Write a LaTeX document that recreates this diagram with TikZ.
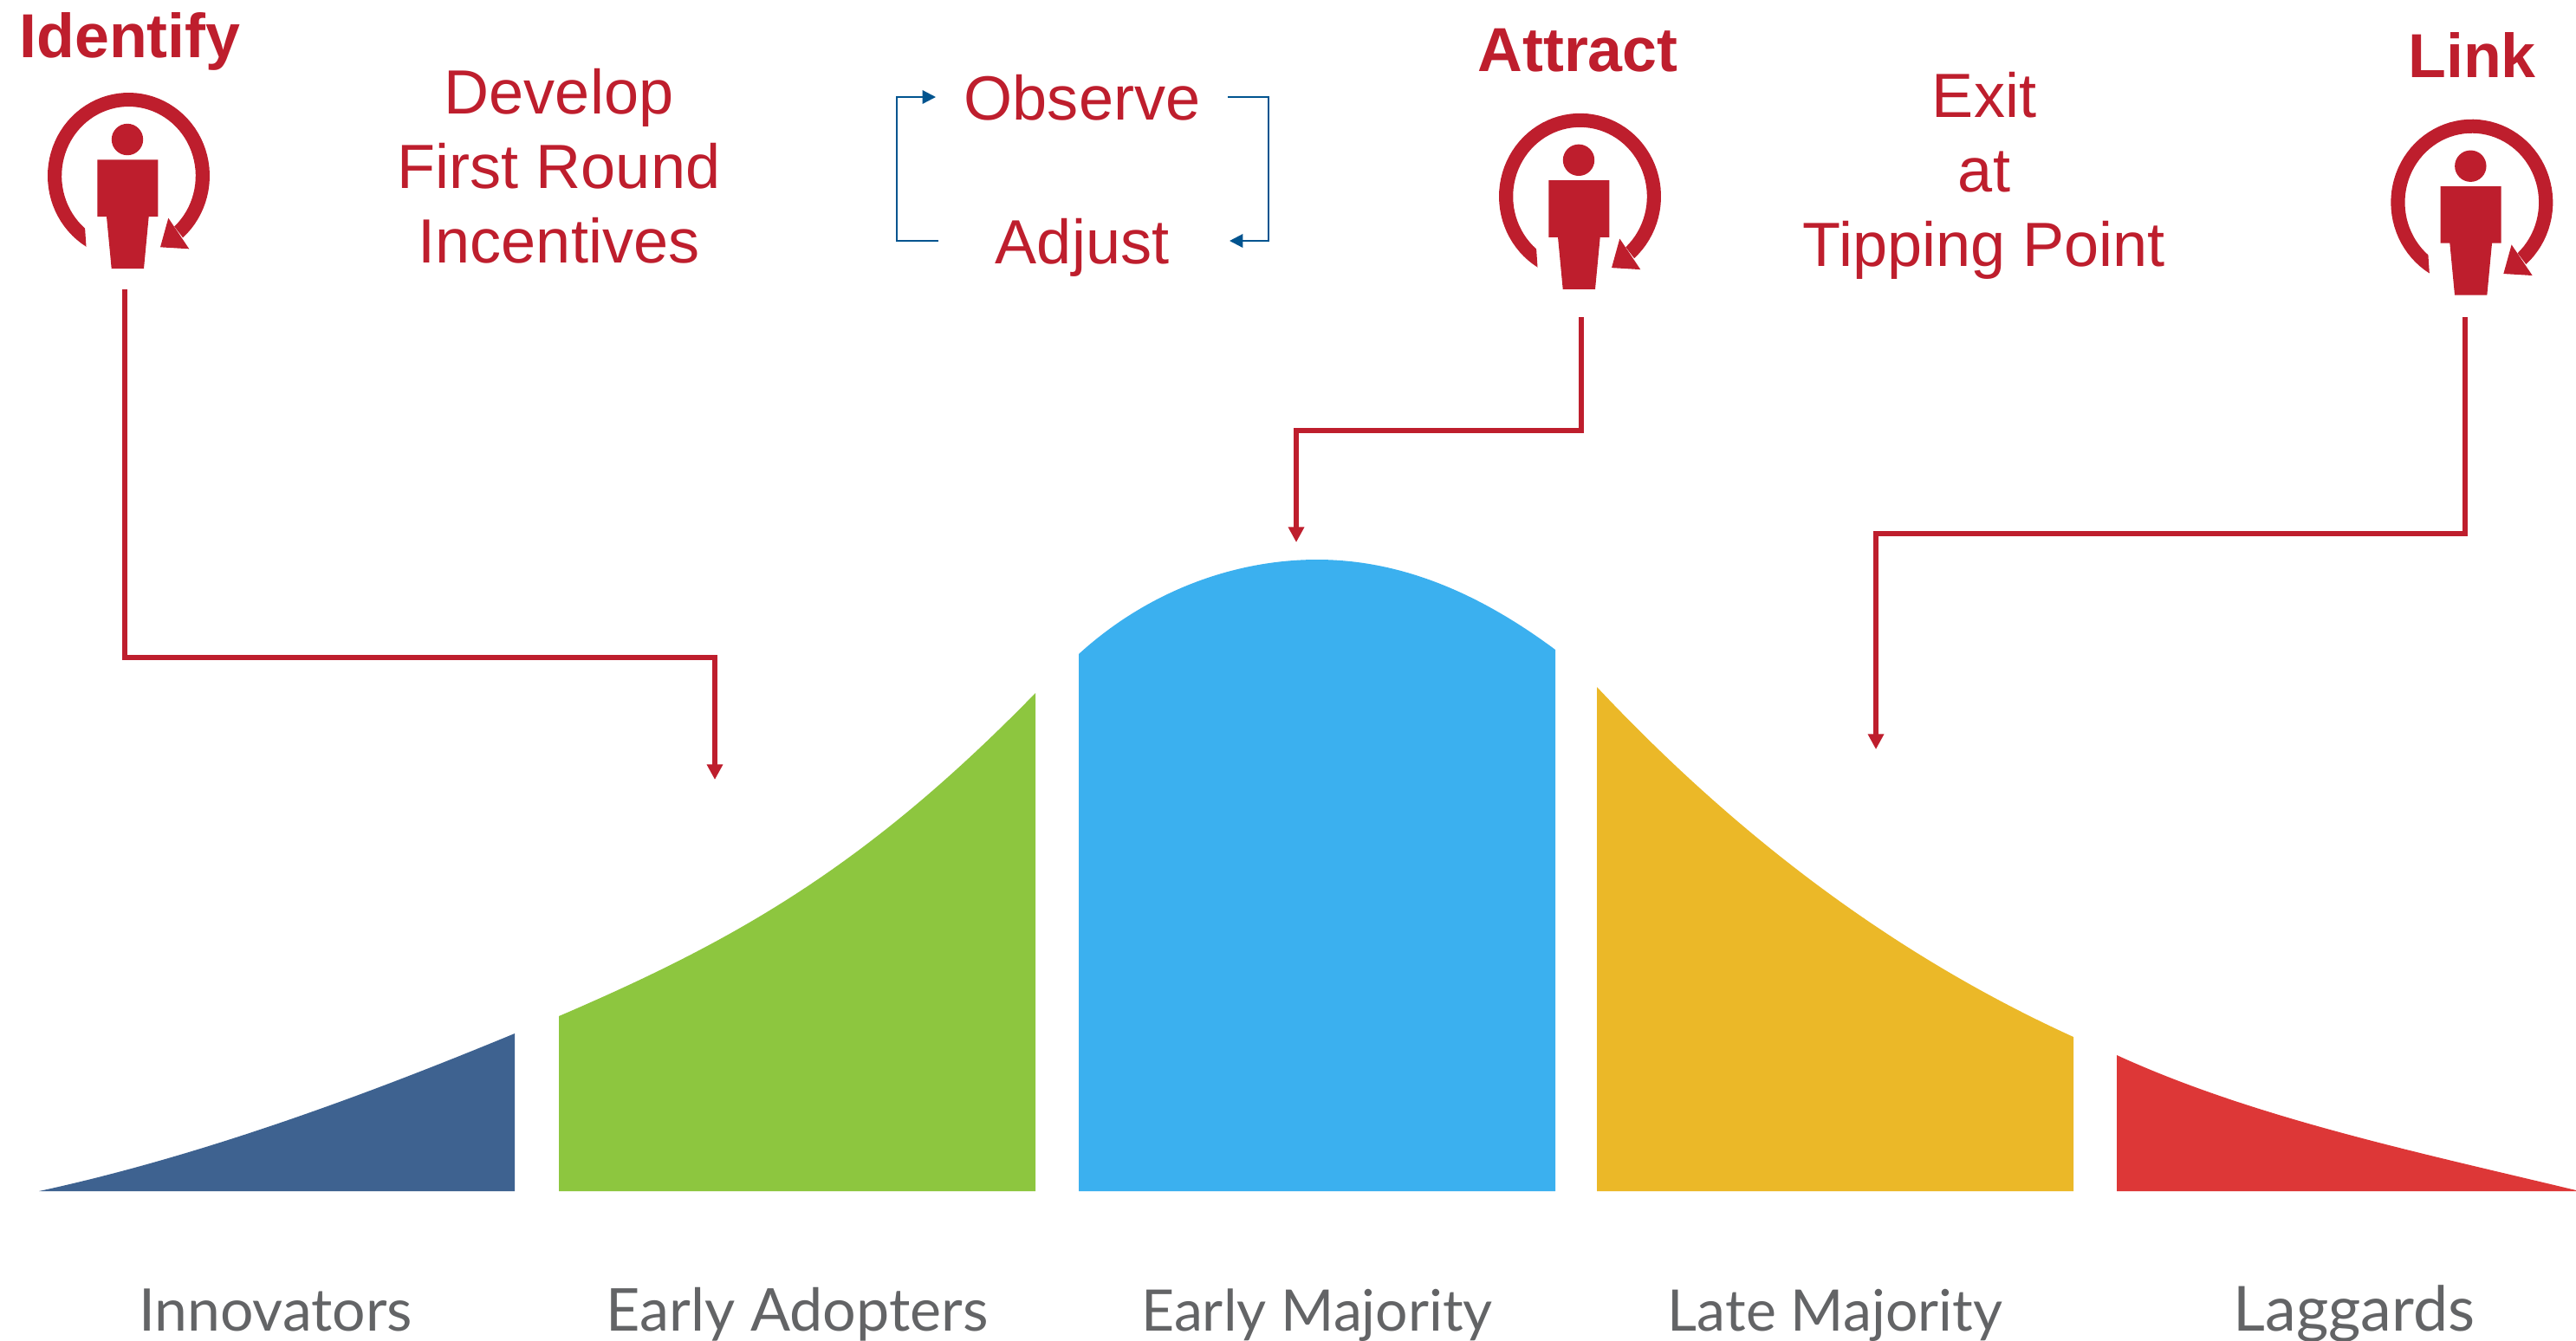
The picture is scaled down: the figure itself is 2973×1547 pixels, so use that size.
\documentclass[tikz,border=0pt]{standalone}
\usepackage{fontspec}
\setmainfont{Liberation Sans}
\newfontfamily\lblfont{Lato}
\usetikzlibrary{arrows.meta}
\definecolor{brickred}{HTML}{BE1E2D}
\definecolor{loopblue}{HTML}{00548F}
\definecolor{navyband}{HTML}{3E6290}
\definecolor{greenband}{HTML}{8DC63F}
\definecolor{skyband}{HTML}{3BB0EF}
\definecolor{yellowband}{HTML}{EBB828}
\definecolor{redband}{HTML}{DD3737}
\definecolor{lblgray}{HTML}{636466}
\tikzset{
  headtxt/.style={anchor=base,inner sep=0pt,text=brickred,font=\fontsize{20.4}{24}\selectfont\bfseries},
  steptxt/.style={anchor=base,inner sep=0pt,text=brickred,font=\fontsize{20.5}{24}\selectfont},
  grouptxt/.style={anchor=base,inner sep=0pt,text=lblgray,font=\fontsize{#1}{22}\selectfont\lblfont},
  redlink/.style={draw=brickred,line width=1.65pt,-{Triangle[length=5pt,width=5pt]}},
  bluelink/.style={draw=loopblue,line width=0.65pt},
  bluearrow/.style={bluelink,-{Triangle[length=4.4pt,width=4.4pt]}},
  person/.pic={
    \fill[brickred] (-1.5,-42) circle[radius=18.2];
    \fill[brickred] (-36.2,-18.7) -- (33.8,-18.7) -- (33.8,47) -- (23.2,47) -- (17.5,107) -- (-19.8,107) -- (-25.5,47) -- (-36.2,47) -- cycle;
    \fill[brickred] plot[domain=121.6:408,samples=70] ({93.5*cos(\x)},{96*sin(\x)})
      -- plot[domain=407:130.7,samples=70] ({77.3*cos(\x)},{80*sin(\x)}) -- cycle;
    \fill[brickred] (45.8,48.7) -- (69.8,84.3) -- (36.5,82.3) -- cycle;
  }
}
\begin{document}
\begin{tikzpicture}[x=0.01cm,y=-0.01cm]
\useasboundingbox (0,0) rectangle (2973,1547);
% bands
\fill[navyband] (45,1375) .. controls (230,1335) and (420,1265) .. (594,1193) -- (594,1375) -- cycle;
\fill[greenband] (645,1173) .. controls (850,1085) and (1000,1000) .. (1195,800) -- (1195,1375) -- (645,1375) -- cycle;
\fill[skyband] (1245,755) .. controls (1325,682) and (1425,646) .. (1520,646) .. controls (1615,646) and (1705,683) .. (1795,750) -- (1795,1375) -- (1245,1375) -- cycle;
\fill[yellowband] (1843,793) .. controls (2000,960) and (2180,1100) .. (2393,1197) -- (2393,1375) -- (1843,1375) -- cycle;
\fill[redband] (2443,1218) .. controls (2600,1290) and (2790,1330) .. (2973,1374) -- (2973,1375) -- (2443,1375) -- cycle;
% group labels
\node[grouptxt=19.3] (innov) at (318,1536.5) {Innovators};
\node[grouptxt=19.4] (adopt) at (920,1536.5) {Early Adopters};
\node[grouptxt=18.8] (early) at (1520,1536.5) {Early Majority};
\node[grouptxt=18.8] (late) at (2118,1536.5) {Late Majority};
\node[grouptxt=20.4] (lag) at (2717,1536.5) {Laggards};
% headings
\node[headtxt] (identify) at (150,66) {Identify};
\node[headtxt] (attract) at (1821,82) {Attract};
\node[headtxt] (linkt) at (2853,89) {Link};
% icons
\pic (ipic) at (148.5,203) {person};
\pic (apic) at (1823.5,226.8) {person};
\pic (lpic) at (2852.8,233.7) {person};
% step text
\node[steptxt] (d1) at (645,131) {Develop};
\node[steptxt] (d2) at (645,217) {First Round};
\node[steptxt] (d3) at (645,303) {Incentives};
\node[steptxt] (obs) at (1249,138) {Observe};
\node[steptxt] (adj) at (1249,304) {Adjust};
\node[steptxt] (e1) at (2290,135) {Exit};
\node[steptxt] (e2) at (2290,221) {at};
\node[steptxt] (e3) at (2290,307) {Tipping Point};
% loop
\coordinate (obsL) at (1080,112);
\coordinate (obsR) at (1417,112);
\coordinate (adjL) at (1083,278);
\coordinate (adjR) at (1419,278);
\draw[bluearrow] (adjL) -- (1035,278) -- (1035,112) -- (obsL);
\draw[bluearrow] (obsR) -- (1464,112) -- (1464,278) -- (adjR);
% connectors
\coordinate (istem) at (144,334);
\coordinate (astem) at (1825,366);
\coordinate (lstem) at (2845,366);
\coordinate (adoptTop) at (825,900);
\coordinate (earlyTop) at (1496,626);
\coordinate (lateTop) at (2165,865);
\draw[redlink] (istem) |- (adoptTop |- 0,759) -- (adoptTop);
\draw[redlink] (astem) |- (earlyTop |- 0,497) -- (earlyTop);
\draw[redlink] (lstem) |- (lateTop |- 0,616) -- (lateTop);
\end{tikzpicture}
\end{document}
